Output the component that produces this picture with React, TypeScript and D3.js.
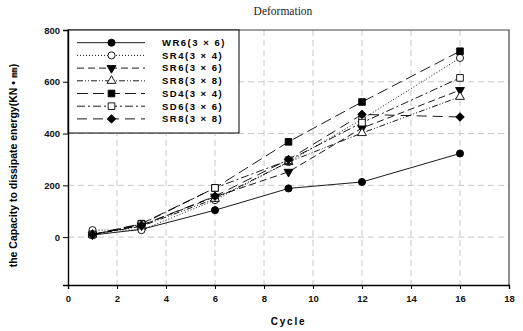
import React, { useEffect, useRef } from 'react';
import * as d3 from 'd3';

const cycles = [1, 3, 6, 9, 12, 16];

const seriesNames = [
  'WR6(3 × 6)',
  'SR4(3 × 4)',
  'SR6(3 × 6)',
  'SR8(3 × 8)',
  'SD4(3 × 4)',
  'SD6(3 × 6)',
  'SR8(3 × 8)',
];

const wr6 = [8, 30, 104, 188, 213, 323];
const sr4 = [27, 27, 143, 290, 455, 692];
const sr6 = [10, 45, 156, 252, 421, 568];
const sr8a = [10, 42, 148, 290, 402, 542];
const sd4 = [10, 52, 190, 368, 522, 718];
const sd6 = [10, 50, 190, 297, 442, 615];
const sr8b = [10, 46, 158, 300, 474, 464];

const seriesValues = [wr6, sr4, sr6, sr8a, sd4, sd6, sr8b];

const yTicks = [0, 200, 400, 600, 800];
const xTicks = [0, 2, 4, 6, 8, 10, 12, 14, 16, 18];

// style per series: dash pattern, marker shape, filled
const styles = [
  { dash: '', shape: 'circle', fill: true },
  { dash: '1,2', shape: 'circle', fill: false },
  { dash: '7,4', shape: 'triDown', fill: true },
  { dash: '6,2,1,2,1,2', shape: 'triUp', fill: false },
  { dash: '11,5', shape: 'square', fill: true },
  { dash: '8,3,2,3', shape: 'square', fill: false },
  { dash: '10,6', shape: 'diamond', fill: true },
];

function symbolPath(shape: string) {
  if (shape === 'circle') return d3.symbol(d3.symbolCircle, 40)();
  if (shape === 'square') return d3.symbol(d3.symbolSquare, 44)();
  if (shape === 'diamond') return d3.symbol(d3.symbolSquare, 36)();
  return d3.symbol(d3.symbolTriangle, 34)();
}

function symbolRotate(shape: string) {
  if (shape === 'triDown') return 180;
  if (shape === 'diamond') return 45;
  return 0;
}

export default function App() {
  const svgRef = useRef<SVGSVGElement>(null);
  const width = 523;
  const height = 331;
  const margin = { top: 30, right: 14, bottom: 46, left: 68 };

  useEffect(() => {
    if (!svgRef.current) return;
    const svg = d3.select(svgRef.current);
    svg.selectAll('*').remove();

    const innerWidth = width - margin.left - margin.right;
    const innerHeight = height - margin.top - margin.bottom;

    const x = d3.scaleLinear().domain([0, 18]).range([0, innerWidth]);
    const y = d3.scaleLinear().domain([-185, 800]).range([innerHeight, 0]);

    const font = 'Arial, "Liberation Sans", sans-serif';

    svg.append('text')
      .attr('x', 283)
      .attr('y', 15)
      .attr('text-anchor', 'middle')
      .style('font-family', '"Liberation Serif", "Times New Roman", serif')
      .style('font-size', '11.5px')
      .style('fill', '#222')
      .text('Deformation');

    const g = svg.append('g')
      .attr('transform', `translate(${margin.left}, ${margin.top})`);

    // grid
    g.selectAll('.vgrid')
      .data(xTicks.filter(d => d > 0 && d < 18))
      .enter().append('line')
      .attr('x1', d => x(d)).attr('x2', d => x(d))
      .attr('y1', 0).attr('y2', innerHeight)
      .attr('stroke', '#c8c8c8')
      .attr('stroke-dasharray', '6,4');

    g.selectAll('.hgrid')
      .data(yTicks.filter(d => d < 800))
      .enter().append('line')
      .attr('x1', 0).attr('x2', innerWidth)
      .attr('y1', d => y(d)).attr('y2', d => y(d))
      .attr('stroke', '#c8c8c8')
      .attr('stroke-dasharray', '6,4');

    // frame top/right
    g.append('path')
      .attr('d', `M0,0H${innerWidth}V${innerHeight}`)
      .attr('fill', 'none')
      .attr('stroke', '#444')
      .attr('stroke-width', 1.2);

    // series
    const line = d3.line<number>()
      .x((d, i) => x(cycles[i]))
      .y(d => y(d));

    seriesValues.forEach((vals, i) => {
      const st = styles[i];
      g.append('path')
        .datum(vals)
        .attr('fill', 'none')
        .attr('stroke', '#000')
        .attr('stroke-width', 0.9)
        .attr('stroke-dasharray', st.dash || null)
        .attr('d', line);
    });

    seriesValues.forEach((vals, i) => {
      const st = styles[i];
      g.selectAll(`.m-${i}`)
        .data(vals)
        .enter().append('path')
        .attr('d', symbolPath(st.shape))
        .attr('transform', (d, j) => `translate(${x(cycles[j])},${y(d)}) rotate(${symbolRotate(st.shape)})`)
        .attr('fill', st.fill ? '#000' : '#fff')
        .attr('stroke', '#000')
        .attr('stroke-width', 0.9);
    });

    // legend
    const legW = 171;
    const legH = 103;
    g.append('rect')
      .attr('x', 0).attr('y', 0)
      .attr('width', legW).attr('height', legH)
      .attr('fill', '#fff')
      .attr('stroke', '#000')
      .attr('stroke-width', 1);

    const items = g.selectAll('.legend-item')
      .data(seriesNames)
      .enter().append('g')
      .attr('transform', (d, i) => `translate(0, ${12.7 + i * 12.7})`);

    items.append('line')
      .attr('x1', 9).attr('x2', 77)
      .attr('y1', 0).attr('y2', 0)
      .attr('stroke', '#000')
      .attr('stroke-width', 0.9)
      .attr('stroke-dasharray', (d, i) => styles[i].dash || null);

    items.append('path')
      .attr('d', (d, i) => symbolPath(styles[i].shape))
      .attr('transform', (d, i) => `translate(43.5,0) rotate(${symbolRotate(styles[i].shape)})`)
      .attr('fill', (d, i) => (styles[i].fill ? '#000' : '#fff'))
      .attr('stroke', '#000')
      .attr('stroke-width', 0.9);

    items.append('text')
      .attr('x', 94)
      .attr('y', 0)
      .attr('dy', '0.35em')
      .style('font-family', font)
      .style('font-weight', 'bold')
      .style('font-size', '9.5px')
      .style('letter-spacing', '1.5px')
      .text(d => d);

    // axes
    const xAxis = g.append('g')
      .attr('transform', `translate(0, ${innerHeight})`)
      .call(d3.axisBottom(x).tickValues(xTicks).tickSize(4).tickPadding(6));
    const yAxis = g.append('g')
      .call(d3.axisLeft(y).tickValues(yTicks).tickSize(5).tickPadding(3));

    [xAxis, yAxis].forEach(ax => {
      ax.select('.domain').attr('stroke', '#000').attr('stroke-width', 1.4);
      ax.selectAll('.tick line').attr('stroke', '#000');
      ax.selectAll('text')
        .style('font-family', font)
        .style('font-weight', 'bold')
        .style('font-size', '9.5px')
        .style('fill', '#111');
    });

    svg.append('text')
      .attr('x', margin.left + innerWidth / 2)
      .attr('y', 325)
      .attr('text-anchor', 'middle')
      .style('font-family', font)
      .style('font-weight', 'bold')
      .style('font-size', '10px')
      .style('letter-spacing', '1.8px')
      .text('Cycle');

    svg.append('text')
      .attr('transform', `translate(17, ${margin.top + innerHeight / 2 + 8}) rotate(-90)`)
      .attr('text-anchor', 'middle')
      .style('font-family', font)
      .style('font-weight', 'bold')
      .style('font-size', '10.5px')
      .text('the Capacity to dissipate energy(KN • ㎜)');
  }, []);

  return (
    <svg
      ref={svgRef}
      width={width}
      height={height}
      viewBox={`0 0 ${width} ${height}`}
      style={{ position: 'absolute', left: 0, top: 0, background: '#fff' }}
    />
  );
}
